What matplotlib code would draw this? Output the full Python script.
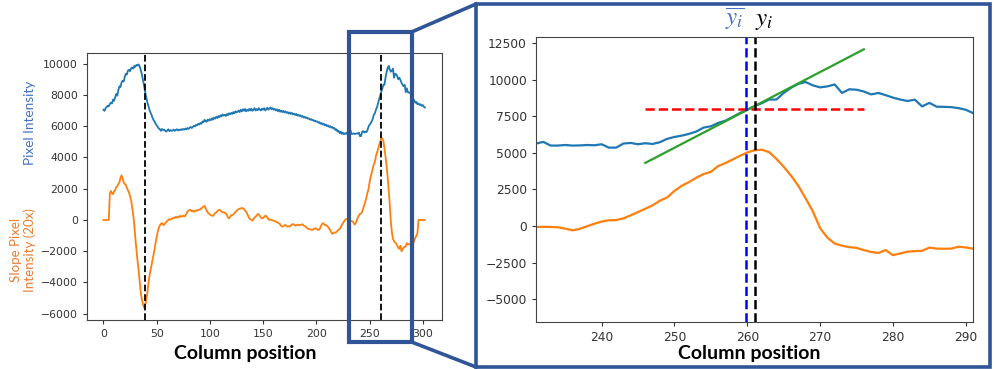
import numpy as np
import matplotlib.pyplot as plt
from matplotlib.patches import Rectangle
from matplotlib.lines import Line2D
import matplotlib.transforms as mtransforms

# pixel intensity along one image row, one value per column
columns = np.arange(0, 303)
intensity = [
    7050, 6980, 7150, 7220, 7300, 7260, 7420, 7500, 7450, 7700,
    7620, 7850, 8050, 7950, 8300, 8550, 8500, 8800, 8900, 8850,
    9150, 9350, 9300, 9550, 9600, 9520, 9700, 9750, 9680, 9850,
    9800, 9920, 9880, 9950, 9820, 9600, 9350, 9000, 8650, 8250,
    7900, 7600, 7350, 7100, 6900, 6750, 6550, 6400, 6300, 6150,
    6050, 5950, 5850, 5800, 5700, 5820, 5750, 5780, 5700, 5650,
    5720, 5800, 5680, 5750, 5700, 5720, 5780, 5700, 5760, 5800,
    5720, 5780, 5740, 5800, 5760, 5820, 5780, 5850, 5800, 5880,
    5820, 5900, 5950, 5880, 5960, 6020, 5980, 6080, 6050, 6150,
    6100, 6200, 6150, 6300, 6250, 6400, 6320, 6280, 6420, 6350,
    6450, 6380, 6500, 6420, 6550, 6480, 6600, 6520, 6650, 6580,
    6700, 6620, 6750, 6680, 6720, 6650, 6780, 6700, 6820, 6750,
    6850, 6780, 6900, 6820, 6950, 6880, 6920, 7000, 6900, 7050,
    6950, 7080, 6980, 7100, 6950, 7050, 6980, 7100, 7000, 7120,
    6980, 7050, 7150, 7000, 7100, 7020, 7150, 7050, 7000, 7120,
    7050, 7150, 7000, 7080, 7180, 7050, 7120, 7200, 7080, 7150,
    7050, 7100, 7000, 7080, 6950, 7050, 6920, 7000, 6900, 6980,
    6880, 6950, 6850, 6900, 6800, 6880, 6780, 6850, 6750, 6800,
    6720, 6780, 6680, 6720, 6650, 6700, 6600, 6650, 6550, 6600,
    6520, 6560, 6480, 6500, 6420, 6450, 6380, 6400, 6320, 6350,
    6280, 6300, 6220, 6250, 6150, 6200, 6100, 6150, 6050, 6100,
    6000, 6050, 5950, 6000, 5900, 5950, 5850, 5880, 5750, 5800,
    5650, 5700, 5550, 5650, 5500, 5580, 5480, 5550, 5500, 5600,
    5550, 5640, 5750, 5500, 5500, 5540, 5500, 5510, 5540, 5520,
    5590, 5360, 5360, 5640, 5680, 5590, 5660, 5610, 5730, 5960,
    6090, 6180, 6300, 6460, 6730, 6820, 7050, 7200, 7460, 7730,
    7950, 8200, 8400, 8650, 8650, 9100, 9450, 9720, 9850, 9620,
    9480, 9550, 9680, 9100, 9350, 9320, 9200, 9000, 9100, 8950,
    8780, 8650, 8550, 8640, 8180, 8420, 8160, 8150, 8130, 8060,
    7950, 7720, 7650, 7500, 7550, 7400, 7450, 7350, 7400, 7300,
    7350, 7250, 7200,
]

# slope of the intensity, scaled by 20
slope20 = [
    0, 0, 0, 0, 0, 0, 1700, 1850, 1700, 1650,
    1850, 1900, 2100, 2150, 2300, 2400, 2700, 2850, 2650, 2400,
    2300, 2250, 2050, 1900, 1750, 1500, 1250, 800, 300, -350,
    -1200, -1900, -2600, -3200, -3900, -4600, -5050, -5350, -5600, -5500,
    -5200, -4800, -4200, -3700, -3300, -2950, -2600, -2250, -1900, -1450,
    -1100, -750, -500, -350, -250, -200, -300, -320, -200, -150,
    -50, 0, 50, 20, 100, 80, 150, 120, 200, 150,
    220, 180, 260, 200, 230, 280, 220, 300, 400, 550,
    600, 650, 620, 550, 600, 520, 580, 620, 580, 650,
    640, 700, 750, 800, 850, 900, 750, 600, 480, 400,
    350, 300, 280, 260, 350, 450, 480, 560, 620, 650,
    600, 520, 480, 500, 450, 430, 300, 150, 100, 200,
    300, 320, 350, 420, 500, 580, 640, 700, 720, 740,
    760, 750, 700, 600, 530, 400, 250, 100, 50, 0,
    -40, 50, 150, 210, 300, 380, 360, 250, 150, 100,
    120, 200, 260, 250, 150, 50, 0, 20, 0, -30,
    -50, -80, -100, -150, -180, -210, -300, -380, -430, -400,
    -350, -320, -380, -430, -400, -430, -350, -300, -260, -300,
    -360, -350, -320, -300, -340, -320, -300, -280, -350, -400,
    -430, -500, -560, -580, -600, -620, -640, -600, -560, -530,
    -560, -620, -640, -600, -450, -300, -210, -250, -320, -330,
    -380, -450, -550, -650, -780, -890, -850, -800, -820, -750,
    -680, -620, -580, -450, -320, -200, -100, 0, 60, 50,
    0, -70, -60, -70, -90, -180, -300, -200, -20, 150,
    300, 390, 400, 520, 730, 950, 1180, 1410, 1730, 1950,
    2400, 2750, 3000, 3300, 3550, 3700, 4100, 4300, 4550, 4800,
    5030, 5180, 5220, 5050, 4590, 4050, 3450, 2750, 1900, 1000,
    -150, -800, -1200, -1350, -1450, -1500, -1650, -1780, -1850, -1650,
    -2000, -1880, -1760, -1720, -1700, -1480, -1550, -1560, -1550, -1420,
    -1470, -1550, -1300, -1150, -1000, -850, 0, 0, 0, 0,
    0, 0, 0,
]

edge_cols = [39, 261]        # strongest slope on each side
zoom_cols = (231, 291)       # window shown on the right
peak_col = 261               # y_i
ybar_col = 259.8             # sub-pixel edge, y_i bar
level = 8000                 # threshold intensity
fit_half = 15                # half length of tangent / threshold line

frame_blue = '#2F5597'
label_blue = '#4472C4'
label_orange = '#ED7D31'

fig = plt.figure(figsize=(9.96, 3.69), dpi=100)
axL = fig.add_axes([0.0873, 0.1328, 0.3564, 0.7236])
axR = fig.add_axes([0.5382, 0.1274, 0.4388, 0.7724])

# --- full row ---
axL.plot(columns, intensity, color='C0', lw=1.3)
axL.plot(columns, slope20, color='C1', lw=1.3)
for c in edge_cols:
    axL.axvline(c, color='k', ls='--', lw=1.3)
axL.set_xlim(-15.5, 318)
axL.set_ylim(-6400, 10680)
axL.set_xticks(np.arange(0, 301, 50))
axL.set_yticks(np.arange(-6000, 10001, 2000))
axL.tick_params(labelsize=7.8, colors='#333333', length=3)

# --- zoomed window ---
pk = list(columns).index(peak_col)
tan_x = np.array([peak_col - fit_half, peak_col + fit_half])
tan_y = intensity[pk] + slope20[pk] / 20.0 * (tan_x - peak_col)

axR.plot(columns, intensity, color='C0', lw=1.6)
axR.plot(columns, slope20, color='C1', lw=1.6)
axR.plot(tan_x, tan_y, color='C2', lw=1.6)
axR.plot(tan_x, [level, level], color='r', ls='--', lw=1.8)
axR.axvline(ybar_col, color='b', ls='--', lw=1.8)
axR.axvline(peak_col, color='k', ls='--', lw=1.8)
axR.set_xlim(*zoom_cols)
axR.set_ylim(-6570, 12930)
axR.set_xticks(np.arange(240, 291, 10))
axR.set_yticks(np.arange(-5000, 12501, 2500))
axR.tick_params(labelsize=8.8, colors='#333333', length=3)

for ax in (axL, axR):
    for s in ax.spines.values():
        s.set_color('#444444')

# axis labels
lab_font = dict(family='Lato', weight='bold')
fig.text(245 / 996, 1 - 353 / 369, 'Column position', ha='center', va='center',
         fontsize=14, **lab_font)
fig.text(749 / 996, 1 - 353 / 369, 'Column position', ha='center', va='center',
         fontsize=14, **lab_font)
fig.text(30 / 996, 1 - 123 / 369, 'Pixel Intensity', rotation=90, ha='center',
         va='center', color=label_blue, fontsize=9.8, family='Lato')
fig.text(23 / 996, 1 - 250 / 369, 'Slope Pixel\nIntensity (20x)', rotation=90,
         ha='center', va='center', color=label_orange, fontsize=9.6,
         family='Lato', linespacing=1.1)

# edge markers above the zoomed axes
plt.rcParams['mathtext.fontset'] = 'stix'
top = mtransforms.blended_transform_factory(axR.transData, fig.transFigure)
axR.text(ybar_col - 0.1, 1 - 19 / 369, r'$\overline{y_i}$', transform=top,
         ha='right', va='center', fontsize=18, color=label_blue)
axR.text(peak_col + 0.05, 1 - 20 / 369, r'$y_i$', transform=top,
         ha='left', va='center', fontsize=18, color='k')

# highlight of the zoom window on the full row
blend = mtransforms.blended_transform_factory(axL.transData, fig.transFigure)
y_lo, y_hi = 1 - 342 / 369, 1 - 32 / 369
fig.patches.append(Rectangle((zoom_cols[0], y_lo), zoom_cols[1] - zoom_cols[0] - 1.5,
                             y_hi - y_lo, transform=blend, fill=False,
                             ec=frame_blue, lw=3, clip_on=False))

# frame around the zoomed panel
fx0, fx1 = 476 / 996, 990 / 996
fy0, fy1 = 1 - 367 / 369, 1 - 4 / 369
fig.patches.append(Rectangle((fx0, fy0), fx1 - fx0, fy1 - fy0,
                             transform=fig.transFigure, fill=False,
                             ec=frame_blue, lw=2.6, clip_on=False))

# connectors from the highlight to the frame
corner_x = fig.transFigure.inverted().transform(
    axL.transData.transform((zoom_cols[1] - 1.5, 0)))[0]
for ya, yb in ((y_hi, fy1), (y_lo, fy0)):
    fig.lines.append(Line2D([corner_x, fx0], [ya, yb], transform=fig.transFigure,
                            color=frame_blue, lw=2.6))

fig.savefig('out.png', dpi=100)
